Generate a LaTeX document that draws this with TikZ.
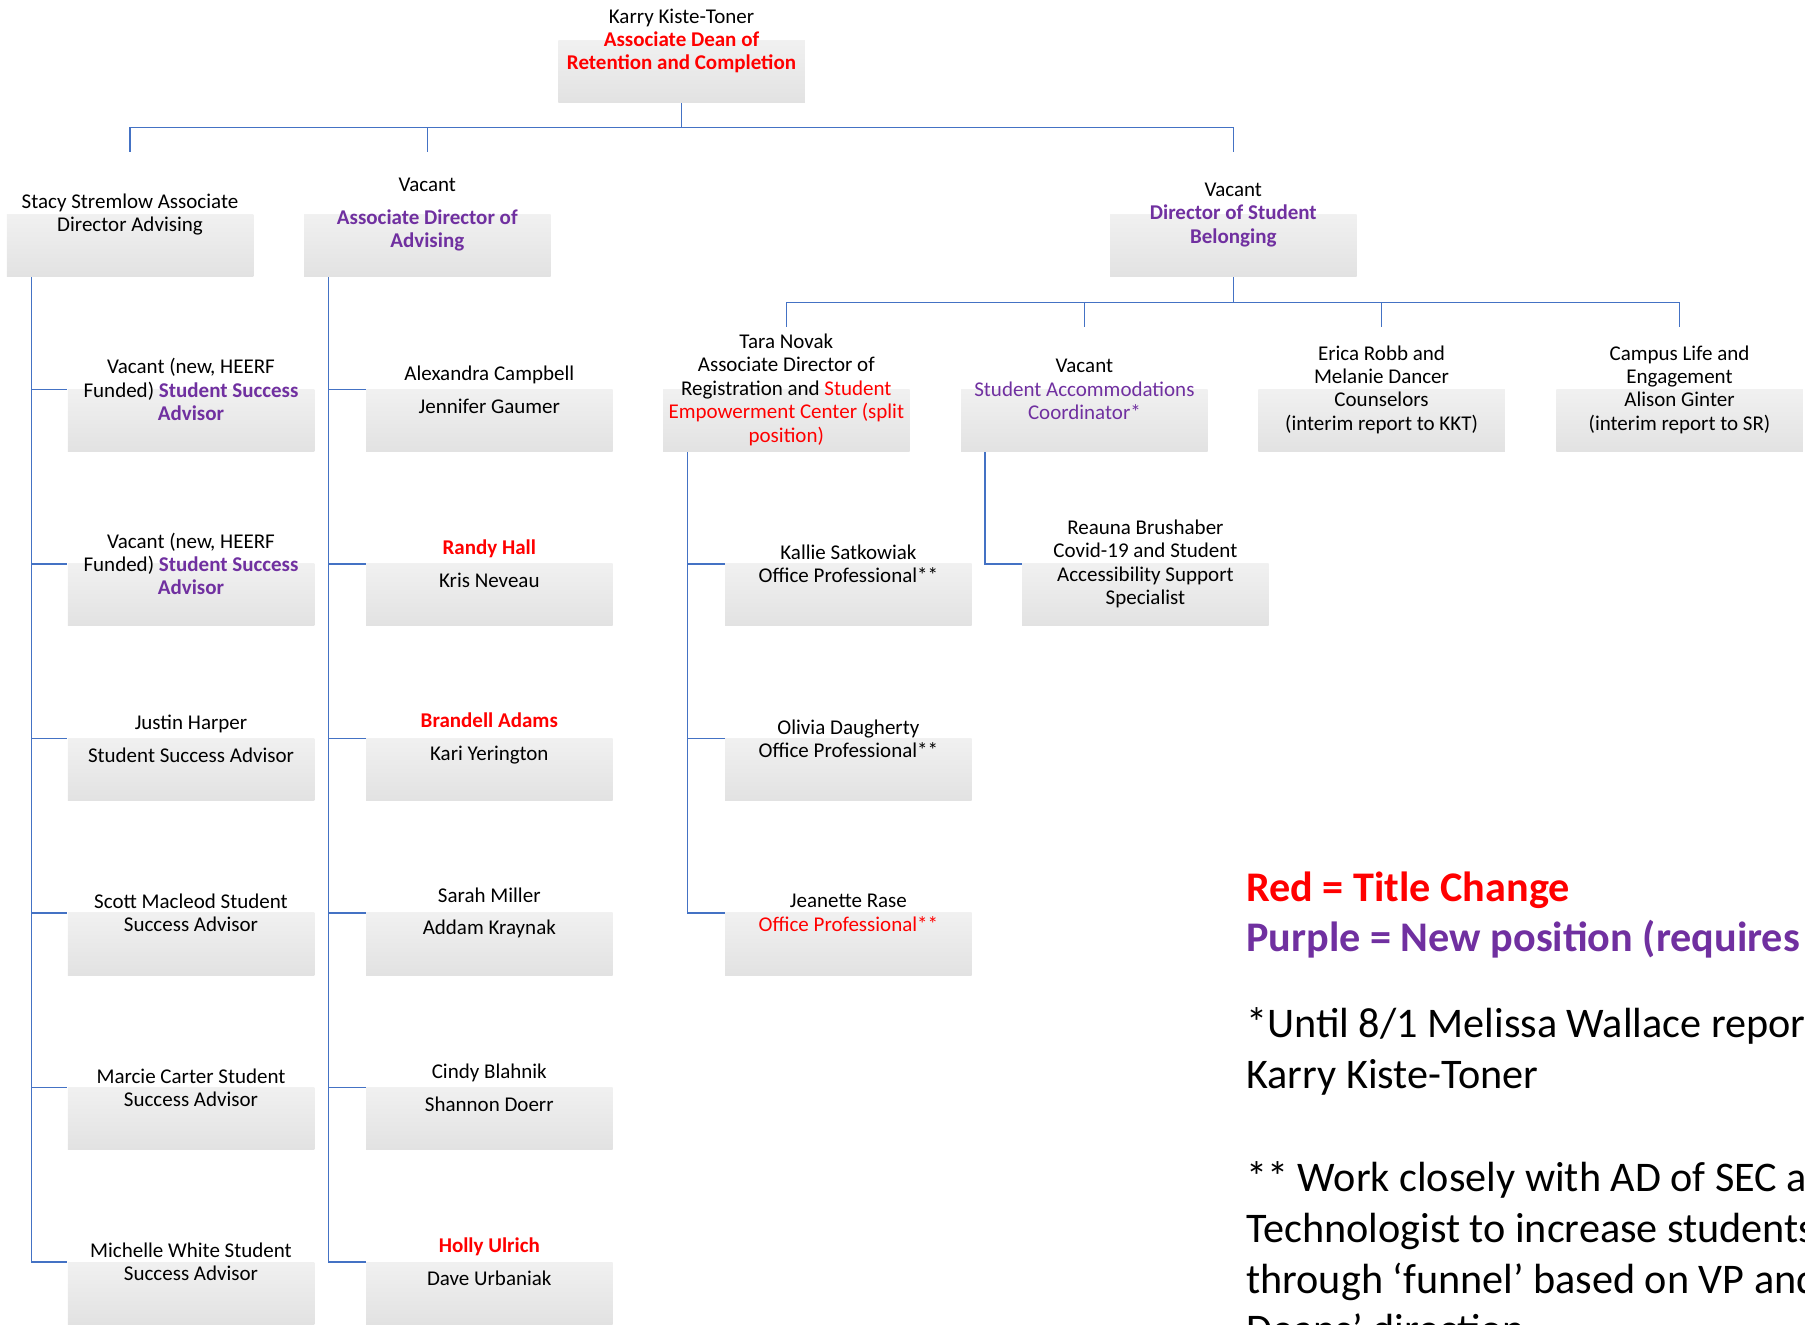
\documentclass[tikz,border=0pt]{standalone}
\usepackage{fontspec}
\setmainfont{Carlito}

\definecolor{linkblue}{HTML}{4472C4}
\definecolor{chgred}{HTML}{FF0000}
\definecolor{newpurple}{HTML}{7030A0}
\definecolor{cardgray}{RGB}{226,226,226}

\newcommand\cardfont{\fontsize{10.5}{11.7}\selectfont}
\newcommand\notefont{\fontsize{21.1}{25.3}\selectfont}
\newcommand\chg[1]{\textcolor{chgred}{#1}}
\newcommand\chgb[1]{\textcolor{chgred}{\bfseries #1}}
\newcommand\newp[1]{\textcolor{newpurple}{#1}}
\newcommand\newpb[1]{\textcolor{newpurple}{\bfseries #1}}

\tikzset{
  card/.style={minimum width=123.25pt, minimum height=62pt, inner sep=0pt,
    align=center, font=\cardfont,
    path picture={\shade[top color=white, bottom color=cardgray]
      (path picture bounding box.west) rectangle (path picture bounding box.south east);}},
  link/.style={draw=linkblue, line width=0.75pt},
  note/.style={anchor=base west, inner sep=0pt, font=\notefont}
}

\begin{document}
\begin{tikzpicture}[x=0.5pt, y=-0.5pt]
\useasboundingbox (0,0) rectangle (1805,1325);
\clip (0,0) rectangle (1805,1325);

% bus lines of the two tree levels
\coordinate (busA) at (0,127.5);
\coordinate (busB) at (0,302.7);

% head of the unit
\node[card] (top) at (681.5,41) {Karry Kiste-Toner\\ \chgb{Associate Dean of}\\ \chgb{Retention and Completion}};

% second level
\node[card] (stacy) at (130,214.7) {Stacy Stremlow Associate\\ Director Advising};
\node[card] (adadv) at (427.3,214.7) {Vacant\\[4.7pt] \newpb{Associate Director of}\\ \newpb{Advising}};
\node[card] (dsb) at (1233.3,214.7) {Vacant\\ \newpb{Director of Student}\\ \newpb{Belonging}};

% reports of the Director of Student Belonging
\node[card] (tara) at (786.3,389.7) {Tara Novak\\ Associate Director of\\ Registration and \chg{Student}\\ \chg{Empowerment Center (split}\\ \chg{position)}};
\node[card] (accom) at (1084.4,389.7) {Vacant\\ \newp{Student Accommodations}\\ \newp{Coordinator*}};
\node[card] (couns) at (1381.5,389.7) {Erica Robb and\\ Melanie Dancer\\ Counselors\\ (interim report to KKT)};
\node[card] (campus) at (1679.5,389.7) {Campus Life and\\ Engagement\\ Alison Ginter\\ (interim report to SR)};

% advisors under Stacy Stremlow
\node[card] (sa1) at (191,389.5) {Vacant (new, HEERF\\ Funded) \newpb{Student Success}\\ \newpb{Advisor}};
\node[card] (sa2) at (191,564) {Vacant (new, HEERF\\ Funded) \newpb{Student Success}\\ \newpb{Advisor}};
\node[card] (sa3) at (191,738.5) {Justin Harper\\[4.7pt] Student Success Advisor};
\node[card] (sa4) at (191,913) {Scott Macleod Student\\ Success Advisor};
\node[card] (sa5) at (191,1087.5) {Marcie Carter Student\\ Success Advisor};
\node[card] (sa6) at (191,1262) {Michelle White Student\\ Success Advisor};

% advisors under the Associate Director of Advising
\node[card] (ad1) at (489.3,389.5) {Alexandra Campbell\\[4.7pt] Jennifer Gaumer};
\node[card] (ad2) at (489.3,564) {\chgb{Randy Hall}\\[4.7pt] Kris Neveau};
\node[card] (ad3) at (489.3,738.5) {\chgb{Brandell Adams}\\[4.7pt] Kari Yerington};
\node[card] (ad4) at (489.3,913) {Sarah Miller\\[4.7pt] Addam Kraynak};
\node[card] (ad5) at (489.3,1087.5) {Cindy Blahnik\\[4.7pt] Shannon Doerr};
\node[card] (ad6) at (489.3,1262) {\chgb{Holly Ulrich}\\[4.7pt] Dave Urbaniak};

% office professionals under Tara Novak
\node[card] (op1) at (848.4,564) {Kallie Satkowiak\\ Office Professional**};
\node[card] (op2) at (848.4,738.5) {Olivia Daugherty\\ Office Professional**};
\node[card] (op3) at (848.4,913) {Jeanette Rase\\ \chg{Office Professional**}};

% specialist under the accommodations coordinator
\node[card] (spec) at (1145.4,564) {Reauna Brushaber\\ Covid-19 and Student\\ Accessibility Support\\ Specialist};

% connectors: top level
\foreach \c in {stacy, adadv, dsb}
  \draw[link] (top.south) -- (top.south |- busA) -| (\c.north);
\foreach \c in {tara, accom, couns, campus}
  \draw[link] (dsb.south) -- (dsb.south |- busB) -| (\c.north);

% connectors: hanging lists
\foreach \c in {sa1, sa2, sa3, sa4, sa5, sa6}
  \draw[link] ([xshift=12.5pt]stacy.south west) |- (\c.west);
\foreach \c in {ad1, ad2, ad3, ad4, ad5, ad6}
  \draw[link] ([xshift=12.5pt]adadv.south west) |- (\c.west);
\foreach \c in {op1, op2, op3}
  \draw[link] ([xshift=12.5pt]tara.south west) |- (\c.west);
\draw[link] ([xshift=12.2pt]accom.south west) |- (spec.west);

% key and notes
\node[note] (key1) at (1246,901) {\chgb{Red = Title Change}};
\node[note] (key2) at (1246,951.5) {\newpb{Purple = New position (requires}};
\node[note] (nt1) at (1246,1037) {*Until 8/1 Melissa Wallace reports};
\node[note] (nt2) at (1246,1088) {Karry Kiste-Toner};
\node[note] (nt3) at (1246,1191.5) {** Work closely with AD of SEC and};
\node[note] (nt4) at (1246,1242) {Technologist to increase students};
\node[note] (nt5) at (1246,1293) {through ‘funnel’ based on VP and};
\node[note] (nt6) at (1246,1343.5) {Deans’ direction};
\end{tikzpicture}
\end{document}
